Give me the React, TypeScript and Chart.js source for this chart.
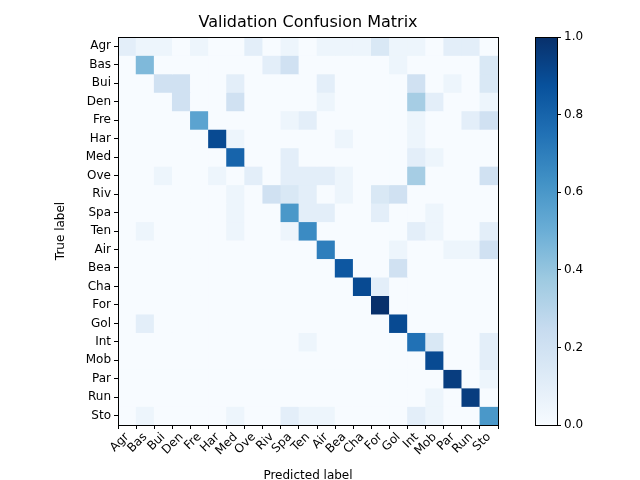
import React, { useEffect, useRef } from 'react';
import { Chart, registerables } from 'chart.js';

Chart.register(...registerables);

const labels = ['Agr', 'Bas', 'Bui', 'Den', 'Fre', 'Har', 'Med', 'Ove', 'Riv', 'Spa', 'Ten', 'Air', 'Bea', 'Cha', 'For', 'Gol', 'Int', 'Mob', 'Par', 'Run', 'Sto'];

// rows = true label, columns = predicted label
const rowAgr = [0.1, 0.05, 0.05, 0, 0.05, 0, 0, 0.1, 0, 0.05, 0, 0.05, 0.05, 0.05, 0.15, 0.05, 0.05, 0, 0.1, 0.1, 0];
const rowBas = [0, 0.45, 0, 0, 0, 0, 0, 0, 0.1, 0.2, 0, 0, 0, 0, 0, 0.05, 0, 0, 0, 0, 0.15];
const rowBui = [0, 0, 0.2, 0.2, 0, 0, 0.1, 0, 0, 0, 0, 0.1, 0, 0, 0, 0, 0.2, 0, 0.05, 0, 0.15];
const rowDen = [0, 0, 0, 0.2, 0, 0, 0.2, 0, 0, 0, 0, 0.05, 0, 0, 0, 0, 0.35, 0.1, 0, 0, 0.05];
const rowFre = [0, 0, 0, 0, 0.55, 0, 0, 0, 0, 0.05, 0.1, 0, 0, 0, 0, 0, 0.05, 0, 0, 0.1, 0.2];
const rowHar = [0, 0, 0, 0, 0, 0.9, 0.05, 0, 0, 0, 0, 0, 0.05, 0, 0, 0, 0.05, 0, 0, 0, 0];
const rowMed = [0, 0, 0, 0, 0, 0, 0.8, 0, 0, 0.1, 0, 0, 0, 0, 0, 0, 0.1, 0.05, 0, 0, 0];
const rowOve = [0, 0, 0.05, 0, 0, 0.05, 0, 0.1, 0, 0.1, 0.1, 0.1, 0.05, 0, 0, 0, 0.35, 0, 0, 0, 0.2];
const rowRiv = [0, 0, 0, 0, 0, 0, 0.05, 0, 0.2, 0.15, 0.1, 0, 0.05, 0, 0.15, 0.2, 0, 0, 0, 0, 0];
const rowSpa = [0, 0, 0, 0, 0, 0, 0.05, 0, 0, 0.6, 0.1, 0.1, 0, 0, 0.1, 0, 0, 0.05, 0, 0, 0];
const rowTen = [0, 0.05, 0, 0, 0, 0, 0.05, 0, 0, 0.05, 0.65, 0, 0, 0, 0, 0, 0.1, 0.05, 0, 0, 0.1];
const rowAir = [0, 0, 0, 0, 0, 0, 0, 0, 0, 0, 0, 0.7, 0, 0, 0, 0.05, 0, 0, 0.05, 0.05, 0.2];
const rowBea = [0, 0, 0, 0, 0, 0, 0, 0, 0, 0, 0, 0, 0.85, 0, 0, 0.2, 0, 0, 0, 0, 0];
const rowCha = [0, 0, 0, 0, 0, 0, 0, 0, 0, 0, 0, 0, 0, 0.9, 0.1, 0, 0, 0, 0, 0, 0];
const rowFor = [0, 0, 0, 0, 0, 0, 0, 0, 0, 0, 0, 0, 0, 0, 1.0, 0, 0, 0, 0, 0, 0];
const rowGol = [0, 0.1, 0, 0, 0, 0, 0, 0, 0, 0, 0, 0, 0, 0, 0, 0.9, 0, 0, 0, 0, 0];
const rowInt = [0, 0, 0, 0, 0, 0, 0, 0, 0, 0, 0.05, 0, 0, 0, 0, 0, 0.75, 0.15, 0, 0, 0.1];
const rowMob = [0, 0, 0, 0, 0, 0, 0, 0, 0, 0, 0, 0, 0, 0, 0, 0, 0, 0.9, 0, 0, 0.1];
const rowPar = [0, 0, 0, 0, 0, 0, 0, 0, 0, 0, 0, 0, 0, 0, 0, 0, 0, 0, 0.95, 0, 0.05];
const rowRun = [0, 0, 0, 0, 0, 0, 0, 0, 0, 0, 0, 0, 0, 0, 0, 0, 0, 0.05, 0, 0.95, 0];
const rowSto = [0, 0.05, 0, 0, 0, 0, 0.05, 0, 0, 0.1, 0.05, 0.05, 0, 0, 0, 0, 0.1, 0.05, 0, 0, 0.6];

const matrix = [rowAgr, rowBas, rowBui, rowDen, rowFre, rowHar, rowMed, rowOve, rowRiv, rowSpa, rowTen,
  rowAir, rowBea, rowCha, rowFor, rowGol, rowInt, rowMob, rowPar, rowRun, rowSto];

const cbTicks = [0, 0.2, 0.4, 0.6, 0.8, 1.0];

// matplotlib "Blues"
const blues = ['#f7fbff', '#deebf7', '#c6dbef', '#9ecae1', '#6baed6', '#4292c6', '#2171b5', '#08519c', '#08306b'];

function hex(h: string) {
  return [parseInt(h.slice(1, 3), 16), parseInt(h.slice(3, 5), 16), parseInt(h.slice(5, 7), 16)];
}

function blue(v: number) {
  const t = Math.max(0, Math.min(1, v)) * (blues.length - 1);
  const i = Math.min(Math.floor(t), blues.length - 2);
  const f = t - i;
  const a = hex(blues[i]);
  const b = hex(blues[i + 1]);
  const c = a.map((x, k) => Math.round(x + (b[k] - x) * f));
  return `rgb(${c[0]},${c[1]},${c[2]})`;
}

const font = { family: 'DejaVu Sans', size: 12 };

const framePlugin = {
  id: 'frame',
  afterDraw(chart: any) {
    const { ctx, chartArea: a } = chart;
    ctx.save();
    ctx.strokeStyle = '#000';
    ctx.lineWidth = 1;
    ctx.strokeRect(a.left + 0.5, a.top + 0.5, a.right - a.left, a.bottom - a.top);
    ctx.restore();
  },
};

const titlePlugin = {
  id: 'heatTitle',
  afterDraw(chart: any) {
    const { ctx, chartArea: a } = chart;
    ctx.save();
    ctx.fillStyle = '#000';
    ctx.font = '16px "DejaVu Sans"';
    ctx.textAlign = 'center';
    ctx.textBaseline = 'middle';
    ctx.fillText('Validation Confusion Matrix', (a.left + a.right) / 2, 23);
    ctx.restore();
  },
};

export default function App() {
  const mainRef = useRef<HTMLCanvasElement>(null);
  const cbRef = useRef<HTMLCanvasElement>(null);

  useEffect(() => {
    const main = new Chart(mainRef.current!, {
      type: 'bar',
      data: {
        labels,
        datasets: matrix.map((row, r) => ({
          label: labels[r],
          data: row.map(() => 1),
          backgroundColor: row.map(blue),
          borderWidth: 0,
          barPercentage: 1,
          categoryPercentage: 1,
        })),
      },
      options: {
        responsive: false,
        animation: false,
        layout: { padding: { top: 37, right: 142, left: 52, bottom: 0 } },
        plugins: { legend: { display: false }, tooltip: { enabled: false } },
        scales: {
          x: {
            stacked: true,
            grid: { drawOnChartArea: false, drawTicks: true, tickLength: 4, color: '#000' },
            border: { color: '#000' },
            ticks: { font, color: '#000', minRotation: 45, maxRotation: 45, padding: 1, autoSkip: false },
            title: { display: true, text: 'Predicted label', font, color: '#000', padding: { top: 0, bottom: -3 } },
            afterFit: (s: any) => { s.height = 55; },
          },
          y: {
            stacked: true,
            reverse: true,
            min: 0,
            max: 21,
            grid: { drawOnChartArea: false, drawTicks: true, tickLength: 4, color: '#000' },
            border: { color: '#000' },
            afterBuildTicks: (s: any) => { s.ticks = labels.map((_, i) => ({ value: i + 0.5 })); },
            ticks: { font, color: '#000', padding: 3, autoSkip: false, callback: (v: any) => labels[Math.floor(Number(v))] },
            title: { display: true, text: 'True label', font, color: '#000', padding: 2 },
            afterFit: (s: any) => { s.width = 66; },
          },
        },
      },
      plugins: [framePlugin, titlePlugin],
    } as any);

    const cb = new Chart(cbRef.current!, {
      type: 'bar',
      data: {
        labels: ['cb'],
        datasets: [{
          data: [[0, 1]],
          borderWidth: 0,
          barPercentage: 1,
          categoryPercentage: 1,
          backgroundColor: (c: any) => {
            const a = c.chart.chartArea;
            if (!a) return blues[4];
            const g = c.chart.ctx.createLinearGradient(0, a.bottom, 0, a.top);
            blues.forEach((col, i) => g.addColorStop(i / (blues.length - 1), col));
            return g;
          },
        }],
      },
      options: {
        responsive: false,
        animation: false,
        layout: { padding: { top: 37, bottom: 55, left: 15, right: 0 } },
        plugins: { legend: { display: false }, tooltip: { enabled: false } },
        scales: {
          x: { display: false },
          y: {
            position: 'right',
            min: 0,
            max: 1,
            grid: { drawOnChartArea: false, drawTicks: true, tickLength: 4, color: '#000' },
            border: { color: '#000' },
            afterBuildTicks: (s: any) => { s.ticks = cbTicks.map((v) => ({ value: v })); },
            ticks: { font, color: '#000', padding: 3, callback: (v: any) => Number(v).toFixed(1) },
            afterFit: (s: any) => { s.width = 83; },
          },
        },
      },
      plugins: [framePlugin],
    } as any);

    return () => {
      main.destroy();
      cb.destroy();
    };
  }, []);

  return (
    <div style={{ position: 'fixed', left: 0, top: 0, width: 640, height: 480, background: '#fff' }}>
      <canvas ref={mainRef} width={640} height={480} style={{ position: 'absolute', left: 0, top: 0 }} />
      <canvas ref={cbRef} width={120} height={480} style={{ position: 'absolute', left: 520, top: 0 }} />
    </div>
  );
}
